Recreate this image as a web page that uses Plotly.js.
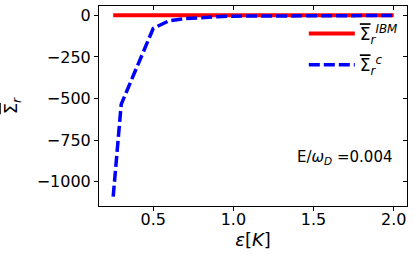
<!DOCTYPE html>
<html>
<head>
<meta charset="utf-8">
<script src="https://cdn.plot.ly/plotly-3.0.1.min.js"></script>
<style>html,body{margin:0;padding:0;background:#fff;}#chart{width:415px;height:258px;}</style>
</head>
<body>
<div id="chart"></div>
<script>
// Data
const epsIBM = [0.25, 2.0];
const sigmaIBM = [0, 0];
const epsC = [0.25, 0.3, 0.5, 0.6, 0.7, 0.8, 0.9, 1.0, 1.25, 1.5, 1.75, 2.0];
const sigmaC = [-1090, -535, -78, -32, -20, -13, -8, -5, -3, -2, -1, -1];
const xTicks = [0.5, 1.0, 1.5, 2.0];
const xTickText = ['0.5', '1.0', '1.5', '2.0'];
const yTicks = [0, -250, -500, -750, -1000];
const yTickText = ['0', '\u2212250', '\u2212500', '\u2212750', '\u22121000'];

const font = 'DejaVu Sans, sans-serif';
const xRange = [0.1615, 2.083];
const yRange = [-1146, 56];
const SIG = '<span style="text-decoration:overline">\u03A3</span>';

const traces = [
  {x: epsIBM, y: sigmaIBM, mode: 'lines', line: {color: '#ff0000', width: 4}, legendgroup: 'a',
   name: SIG + '<sub><i>r</i></sub><sup><i>IBM</i></sup>'},
  {x: epsC, y: sigmaC, mode: 'lines', line: {color: '#0000ff', width: 3.5, dash: '11px,4px'}, legendgroup: 'b',
   name: SIG + '<sub><i>r</i></sub><sup><i>c</i></sup>'}
];

const layout = {
  width: 415, height: 258,
  margin: {l: 99, r: 8, t: 6, b: 52},
  paper_bgcolor: '#fff', plot_bgcolor: '#fff',
  font: {family: font, size: 16, color: '#000'},
  showlegend: true,
  legend: {x: 0.665, y: 0.95, xanchor: 'left', yanchor: 'top', bgcolor: 'rgba(0,0,0,0)',
           font: {size: 17, family: font}, tracegroupgap: 6, itemwidth: 46},
  xaxis: {range: xRange, tickvals: xTicks, ticktext: xTickText, ticks: 'outside', ticklen: 4,
          tickwidth: 1, tickcolor: '#000', showline: true, linecolor: '#000', linewidth: 1,
          showgrid: false, zeroline: false, tickfont: {size: 16, family: font}, ticklabelstandoff: -5,
          title: {text: '<i>\u03B5</i>[<i>K</i>]', font: {size: 18, family: font}, standoff: 2}},
  yaxis: {range: yRange, tickvals: yTicks, ticktext: yTickText, ticks: 'outside', ticklen: 4,
          tickwidth: 1, tickcolor: '#000', showline: true, linecolor: '#000', linewidth: 1,
          showgrid: false, zeroline: false, tickfont: {size: 16, family: font},
          title: {text: SIG + '<sub><i>r</i></sub>', font: {size: 18, family: font}, standoff: 14}},
  xaxis2: {overlaying: 'x', side: 'top', range: xRange, tickvals: xTicks, showticklabels: false,
           ticks: 'inside', ticklen: 4, tickcolor: '#000', showline: true, linecolor: '#000',
           showgrid: false, zeroline: false},
  yaxis2: {overlaying: 'y', side: 'right', range: yRange, tickvals: yTicks, showticklabels: false,
           ticks: 'inside', ticklen: 4, tickcolor: '#000', showline: true, linecolor: '#000',
           showgrid: false, zeroline: false},
  annotations: [{xref: 'paper', yref: 'paper', x: 0.635, y: 0.245, xanchor: 'left', yanchor: 'middle',
                 showarrow: false, text: 'E/<i>\u03C9</i><sub><i>D</i></sub> =0.004',
                 font: {size: 15, family: font}}]
};

traces.push({x: xRange, y: yRange, xaxis: 'x2', yaxis: 'y2', mode: 'markers',
             marker: {opacity: 0}, showlegend: false, hoverinfo: 'skip'});

Plotly.newPlot('chart', traces, layout, {displayModeBar: false, staticPlot: true});
</script>
</body>
</html>
